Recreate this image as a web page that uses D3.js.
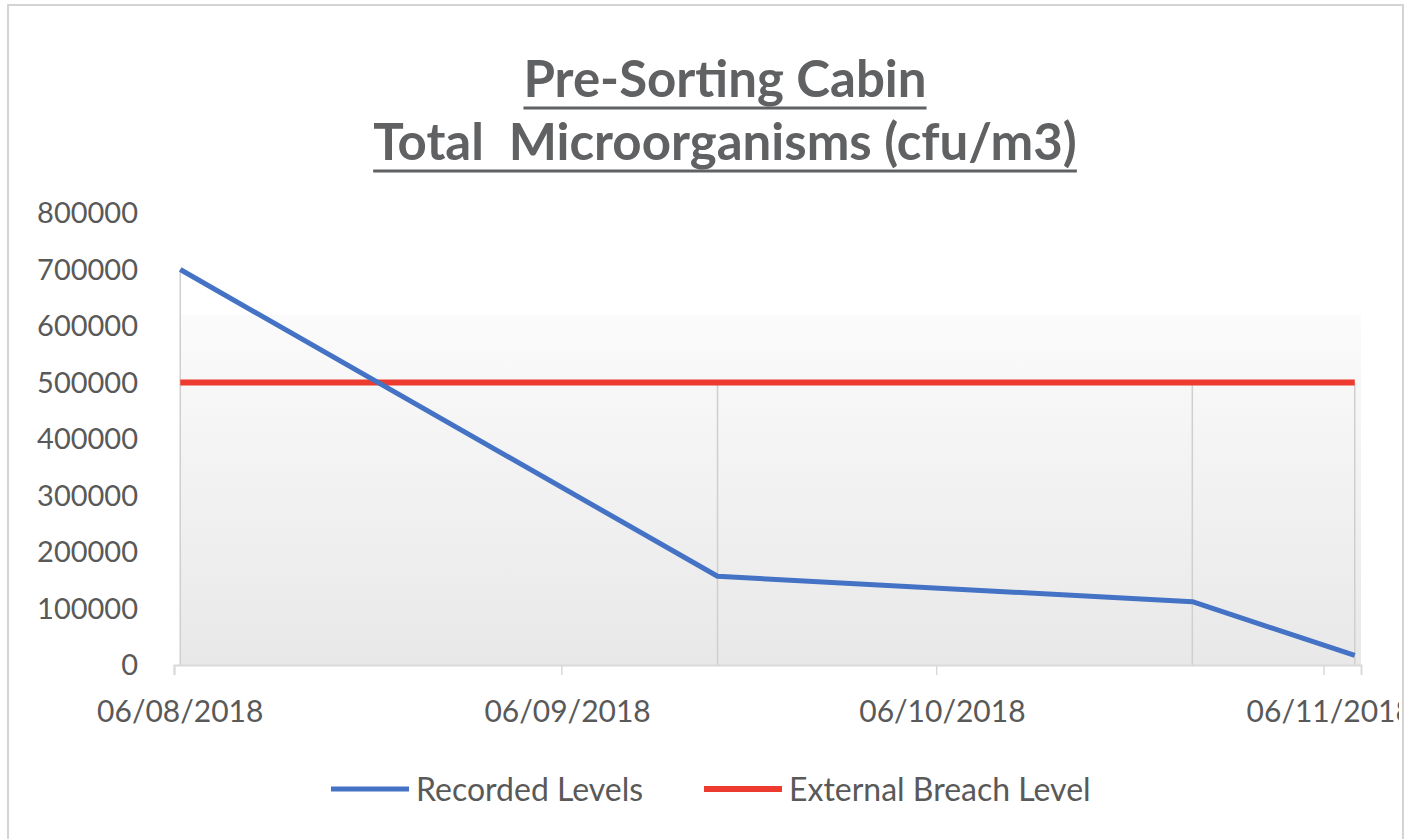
<!DOCTYPE html>
<html>
<head>
<meta charset="utf-8">
<script src="https://cdn.jsdelivr.net/npm/d3@7"></script>
<style>
  html, body { margin: 0; padding: 0; background: #fff; }
  svg { display: block; font-family: Lato, "Open Sans", sans-serif; }
</style>
</head>
<body>
<div id="chart"></div>
<script>
// data (dd/mm/yyyy dates)
const sampleDates = ["2018-08-06", "2018-09-18", "2018-10-26", "2018-11-08"];
const recordedLevels = [700000, 157000, 112000, 17000];
const breachLevels = [500000, 500000, 500000, 500000];
const tickDates = ["2018-08-06", "2018-09-06", "2018-10-06", "2018-11-06"];
const yTicks = [0, 100000, 200000, 300000, 400000, 500000, 600000, 700000, 800000];
const shadedTop = 620000;
const titleLines = ["Pre-Sorting Cabin", "Total\u00a0 Microorganisms (cfu/m3)"];
const seriesNames = ["Recorded Levels", "External Breach Level"];

const W = 1410, H = 839;
const parse = d3.timeParse("%Y-%m-%d");
const fmt = d3.timeFormat("%d/%m/%Y");
const halfDay = d => d3.timeHour.offset(d, 12);
const textGray = "#595959";

const svg = d3.select("#chart").append("svg")
    .attr("width", W)
    .attr("height", H);

svg.append("defs").append("clipPath").attr("id", "frame")
    .append("rect").attr("x", 8).attr("y", 5).attr("width", 1391).attr("height", 840);

const grad = svg.select("defs").append("linearGradient")
    .attr("id", "plotFill").attr("x1", 0).attr("y1", 0).attr("x2", 0).attr("y2", 1);
grad.append("stop").attr("offset", "0%").attr("stop-color", "#fbfbfb");
grad.append("stop").attr("offset", "100%").attr("stop-color", "#e8e8e8");

const root = svg.append("g").attr("clip-path", "url(#frame)");

// x is a date axis, each day is a slot and points sit in the middle of it
const x = d3.scaleTime()
    .domain([parse("2018-08-06"), parse("2018-11-09")])
    .range([174, 1361]);
const y = d3.scaleLinear()
    .domain([0, 800000])
    .range([665, 213]);

const pts = sampleDates.map((d, i) => ({
    date: halfDay(parse(d)),
    rec: recordedLevels[i],
    breach: breachLevels[i]
}));

// shaded band behind the series
root.append("rect")
    .attr("x", x(pts[0].date))
    .attr("y", y(shadedTop))
    .attr("width", x.range()[1] - x(pts[0].date))
    .attr("height", y(0) - y(shadedTop))
    .attr("fill", "url(#plotFill)");

// drop lines
root.append("g").selectAll("line")
    .data(pts)
    .enter().append("line")
    .attr("x1", d => x(d.date)).attr("x2", d => x(d.date))
    .attr("y1", d => y(Math.max(d.rec, d.breach)))
    .attr("y2", y(0))
    .attr("stroke", "#cfcfcf")
    .attr("stroke-width", 1.5);

// x axis
const xAxis = root.append("g")
    .attr("transform", `translate(0,${y(0)})`)
    .call(d3.axisBottom(x)
        .tickValues(tickDates.map(parse))
        .tickSize(10)
        .tickFormat(""));
xAxis.select(".domain").attr("stroke", "#d9d9d9").attr("stroke-width", 2);
xAxis.selectAll(".tick line").attr("stroke", "#d9d9d9").attr("stroke-width", 1.5);

root.append("g").selectAll("text")
    .data(tickDates.map(parse))
    .enter().append("text")
    .attr("x", d => x(halfDay(d)))
    .attr("y", 722)
    .attr("text-anchor", "middle")
    .attr("fill", textGray)
    .style("font-size", "30px")
    .text(d => fmt(d));

// y tick labels (no axis line)
root.append("g").selectAll("text")
    .data(yTicks)
    .enter().append("text")
    .attr("x", 138)
    .attr("y", d => y(d))
    .attr("dy", "0.36em")
    .attr("text-anchor", "end")
    .attr("fill", textGray)
    .style("font-size", "29px")
    .text(d => d);

// series
const line = key => d3.line().x(d => x(d.date)).y(d => y(d[key]));
root.append("path")
    .datum(pts)
    .attr("d", line("breach"))
    .attr("fill", "none")
    .attr("stroke", "#ee3b30")
    .attr("stroke-width", 6);
root.append("path")
    .datum(pts)
    .attr("d", line("rec"))
    .attr("fill", "none")
    .attr("stroke", "#4472c4")
    .attr("stroke-width", 5)
    .attr("stroke-linejoin", "round");

// title with underline
const titleY = [97, 160];
titleLines.forEach((t, i) => {
    const txt = root.append("text")
        .attr("x", 725)
        .attr("y", titleY[i])
        .attr("text-anchor", "middle")
        .attr("fill", "#5f6163")
        .style("font-size", "51px")
        .style("font-weight", "bold")
        .text(t);
    const w = txt.node().getComputedTextLength();
    root.append("line")
        .attr("x1", 725 - w / 2).attr("x2", 725 + w / 2)
        .attr("y1", titleY[i] + 11).attr("y2", titleY[i] + 11)
        .attr("stroke", "#5f6163")
        .attr("stroke-width", 3);
});

// legend
const legendItems = [
    {name: seriesNames[0], color: "#4472c4", x0: 331, w: 5},
    {name: seriesNames[1], color: "#ee3b30", x0: 704, w: 6}
];
const lg = root.append("g").selectAll("g")
    .data(legendItems)
    .enter().append("g")
    .attr("transform", d => `translate(${d.x0},789)`);
lg.append("line")
    .attr("x1", 0).attr("x2", 78)
    .attr("stroke", d => d.color)
    .attr("stroke-width", d => d.w);
lg.append("text")
    .attr("x", 85)
    .attr("dy", "0.36em")
    .attr("fill", textGray)
    .style("font-size", "32px")
    .text(d => d.name);

// chart frame
svg.append("rect")
    .attr("x", 8).attr("y", 5)
    .attr("width", 1395).attr("height", 840)
    .attr("fill", "none")
    .attr("stroke", "#d4d4d4")
    .attr("stroke-width", 2);
</script>
</body>
</html>
